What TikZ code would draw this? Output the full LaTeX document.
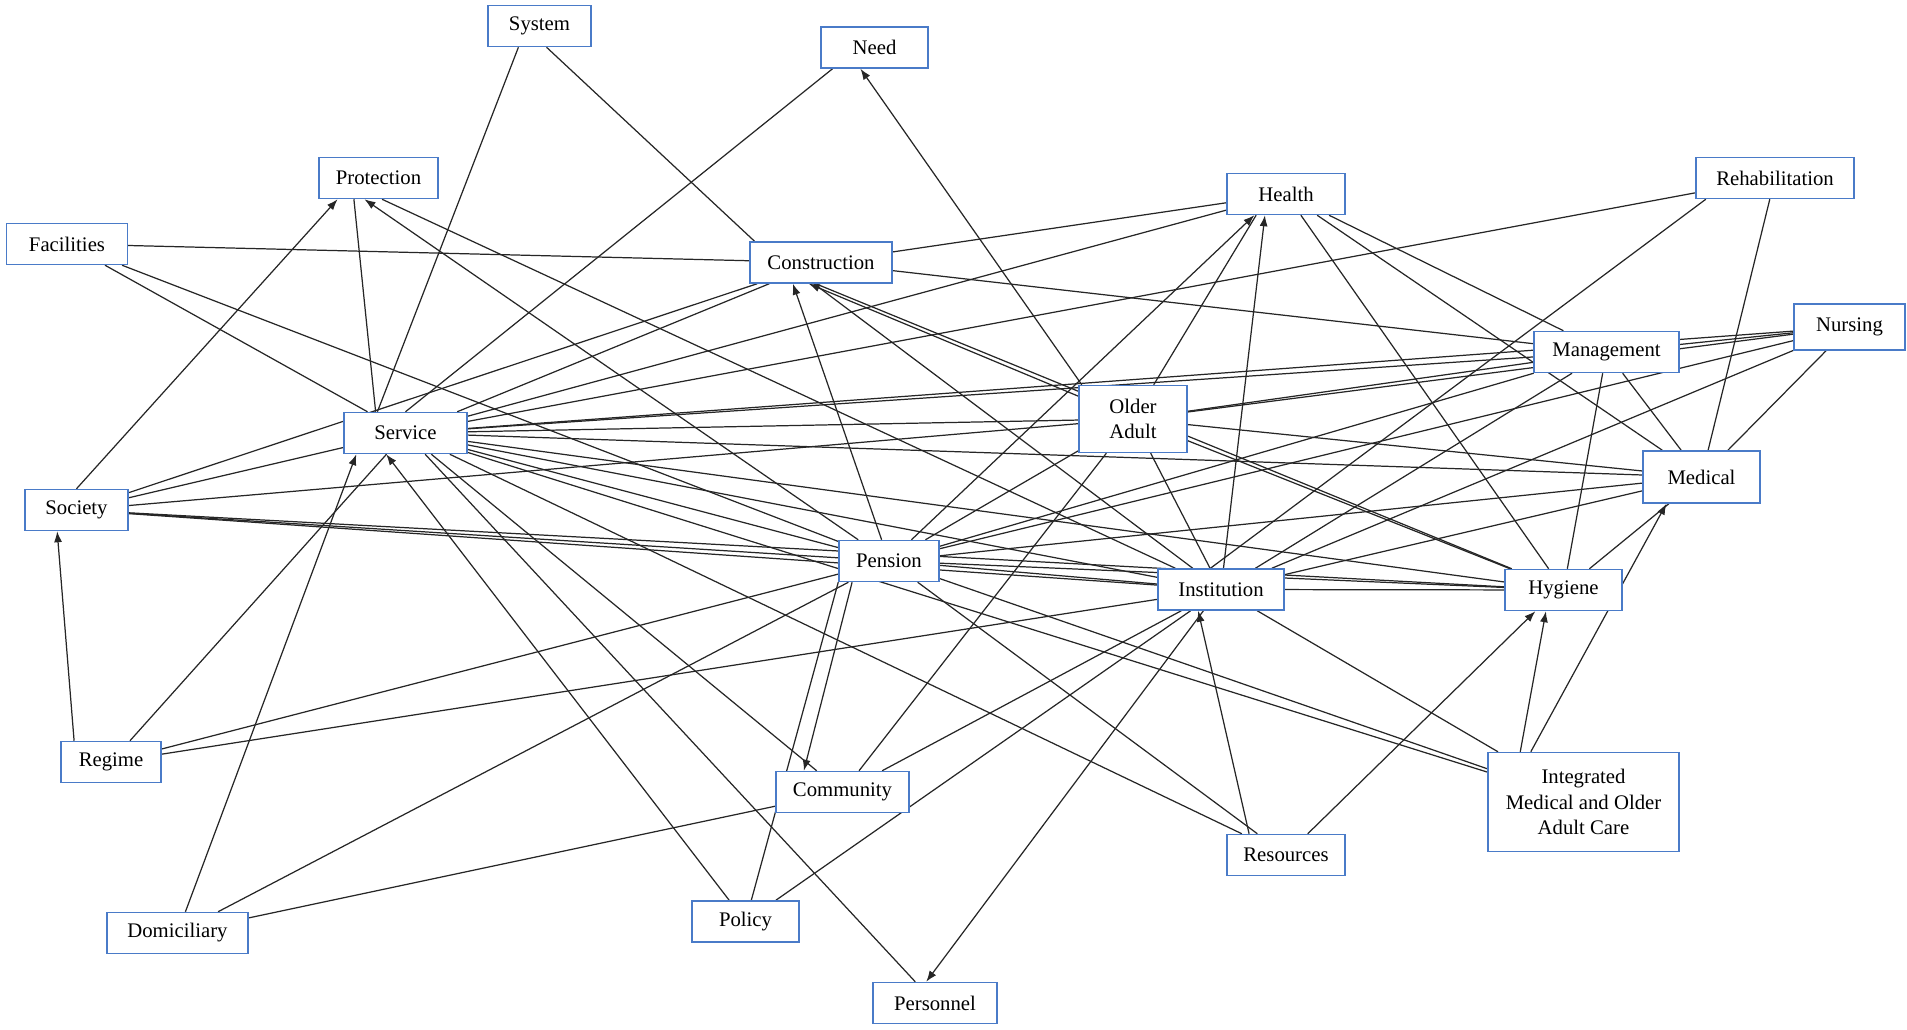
\documentclass[tikz,border=0pt]{standalone}
\usepackage{fontspec}
\setmainfont{Liberation Serif}
\usetikzlibrary{arrows.meta, backgrounds}
\definecolor{boxblue}{HTML}{4A7BC8}

\begin{document}
\begin{tikzpicture}[
    x=0.02cm, y=-0.02cm,
    box/.style={rectangle, draw=boxblue, fill=white, line width=0.85pt, inner sep=2pt, font=\fontsize{11.8}{14.5}\selectfont, align=center, minimum height=0.82cm},
    link/.style={line width=0.7pt, black!85},
    arr/.style={link, -{Latex[length=2.2mm, width=1.6mm]}},
  ]
  \useasboundingbox (0,0) rectangle (1907,1030);

  % Keywords
  \node[box, minimum width=2.06cm] (sys) at (539.5,26) {System};
  \node[box, minimum width=2.14cm] (need) at (874.5,47.5) {Need};
  \node[box, minimum width=2.38cm] (prot) at (378.5,178) {Protection};
  \node[box, minimum width=2.42cm] (fac) at (67,244) {Facilities};
  \node[box, minimum width=2.84cm] (cons) at (821,262.5) {Construction};
  \node[box, minimum width=2.36cm] (hlth) at (1286,194) {Health};
  \node[box, minimum width=3.16cm] (rehab) at (1775,178) {Rehabilitation};
  \node[box, minimum width=2.22cm, minimum height=0.92cm] (nurs) at (1849.5,327) {Nursing};
  \node[box, minimum width=2.90cm] (mgmt) at (1606.5,352) {Management};
  \node[box, minimum width=2.16cm, minimum height=1.34cm] (old) at (1133,419) {Older\\Adult};
  \node[box, minimum width=2.34cm, minimum height=1.04cm] (med) at (1701.5,477) {Medical};
  \node[box, minimum width=2.46cm] (serv) at (405.5,433) {Service};
  \node[box, minimum width=2.06cm] (soc) at (76.5,510) {Society};
  \node[box, minimum width=2.00cm] (pens) at (889,561) {Pension};
  \node[box, minimum width=2.52cm] (inst) at (1221,589.5) {Institution};
  \node[box, minimum width=2.34cm] (hyg) at (1563.5,590) {Hygiene};
  \node[box, minimum width=2.00cm] (reg) at (111,762) {Regime};
  \node[box, minimum width=2.66cm] (comm) at (842.5,792) {Community};
  \node[box, minimum width=3.82cm, minimum height=1.98cm] (integ) at (1583.5,802) {Integrated\\Medical and Older\\Adult Care};
  \node[box, minimum width=2.36cm] (res) at (1286,855) {Resources};
  \node[box, minimum width=2.82cm] (dom) at (177.5,933) {Domiciliary};
  \node[box, minimum width=2.14cm] (pol) at (745.5,921.5) {Policy};
  \node[box, minimum width=2.48cm] (pers) at (935,1003) {Personnel};

  \begin{scope}[on background layer]
    % Undirected co-occurrence
    \draw[link] ([xshift=-12pt]sys.south) -- ([xshift=-16pt]serv.north);
    \draw[link] ([xshift=4pt]sys.south) -- ([xshift=3pt]cons.north west);
    \draw[link] ([xshift=7pt]need.south west) -- (serv.north);
    \draw[link] ([xshift=-14pt]prot.south) -- ([xshift=-17pt]serv.north);
    \draw[link] (inst) -- ([xshift=2pt]prot.south);
    \draw[link] (fac) -- (cons);
    \draw[link] (fac) -- (serv);
    \draw[link] (fac) -- (pens);
    \draw[link] (soc) -- (serv);
    \draw[link] (soc) -- (cons);
    \draw[link] (soc) -- (old);
    \draw[link] (soc) -- (pens);
    \draw[link] (soc) -- (inst);
    \draw[link] (soc) -- (hyg);
    \draw[link] (cons) -- (hlth);
    \draw[link] (cons) -- (mgmt);
    \draw[link] (cons) -- (serv);
    \draw[link] (inst) -- ([xshift=-4pt]cons.south);
    \draw[link] (hyg) -- ([xshift=-3pt]cons.south);
    \draw[link] (hlth) -- (serv);
    \draw[link] (hlth) -- (hyg);
    \draw[link] (hlth) -- (med);
    \draw[link] (hlth) -- (mgmt);
    \draw[link] (rehab) -- (serv);
    \draw[link] ([xshift=6pt]rehab.south west) -- ([xshift=-6pt]inst.north);
    \draw[link] (rehab) -- (med);
    \draw[link] (nurs) -- (mgmt);
    \draw[link] (nurs) -- (serv);
    \draw[link] (nurs) -- (old);
    \draw[link] (nurs) -- (pens);
    \draw[link] (nurs) -- (inst);
    \draw[link] (nurs) -- (med);
    \draw[link] (mgmt) -- (serv);
    \draw[link] (mgmt) -- (old);
    \draw[link] (mgmt) -- (med);
    \draw[link] (mgmt) -- (hyg);
    \draw[link] (mgmt) -- (inst);
    \draw[link] (mgmt) -- (pens);
    \draw[link] (old) -- (serv);
    \draw[link] (old) -- (med);
    \draw[link] (old) -- (hyg);
    \draw[link] (old) -- (inst);
    \draw[link] (old) -- (pens);
    \draw[link] (old) -- (comm);
    \draw[link] (old) -- ([xshift=-17pt]hlth.south);
    \draw[link] (med) -- (serv);
    \draw[link] (med) -- (pens);
    \draw[link] (med) -- (inst);
    \draw[link] (med) -- (hyg);
    \draw[link] (hyg) -- (inst);
    \draw[link] (hyg) -- (pens);
    \draw[link] (hyg) -- (serv);
    \draw[link] (inst) -- (pens);
    \draw[link] (inst) -- (serv);
    \draw[link] (inst) -- (comm);
    \draw[link] (inst) -- (pol);
    \draw[link] (inst) -- (reg);
    \draw[link] (inst) -- (integ);
    \draw[link] (pens) -- (serv);
    \draw[link] (pens) -- (reg);
    \draw[link] (pens) -- (dom);
    \draw[link] (pens.south west) -- (pol);
    \draw[link] (pens) -- (res);
    \draw[link] (pens) -- (integ);
    \draw[link] (serv) -- (comm);
    \draw[link] (serv) -- (pers);
    \draw[link] (serv) -- (res);
    \draw[link] (serv) -- (integ);
    \draw[link] (serv) -- (reg);
    \draw[link] (comm) -- (dom);

    % Directed links
    \draw[arr] (soc.north) -- ([xshift=11pt]prot.south west);
    \draw[arr] (pens) -- ([xshift=-8pt]prot.south);
    \draw[arr] ([xshift=-21pt]reg.north) -- ([xshift=-11pt]soc.south);
    \draw[arr] ([xshift=2pt]old.north west) -- ([xshift=-8pt]need.south);
    \draw[arr] (pens) -- ([xshift=-16pt]cons.south);
    \draw[arr] (old) -- ([xshift=-7pt]cons.south);
    \draw[arr] (pens) -- ([xshift=-18pt]hlth.south);
    \draw[arr] (inst) -- ([xshift=-12pt]hlth.south);
    \draw[arr] (dom) -- ([xshift=-28pt]serv.south);
    \draw[arr] (pol) -- ([xshift=-11pt]serv.south);
    \draw[arr] ([xshift=-21pt]res.north) -- ([xshift=-13pt]inst.south);
    \draw[arr] (res) -- ([xshift=-16pt]hyg.south);
    \draw[arr] ([xshift=-36pt]integ.north) -- ([xshift=-10pt]hyg.south);
    \draw[arr] ([xshift=-30pt]integ.north) -- ([xshift=-20pt]med.south);
    \draw[arr] ([xshift=-10pt]inst.south) -- ([xshift=-5pt]pers.north);
    \draw[arr] ([xshift=-21pt]pens.south) -- ([xshift=-22pt]comm.north);
  \end{scope}
\end{tikzpicture}
\end{document}
